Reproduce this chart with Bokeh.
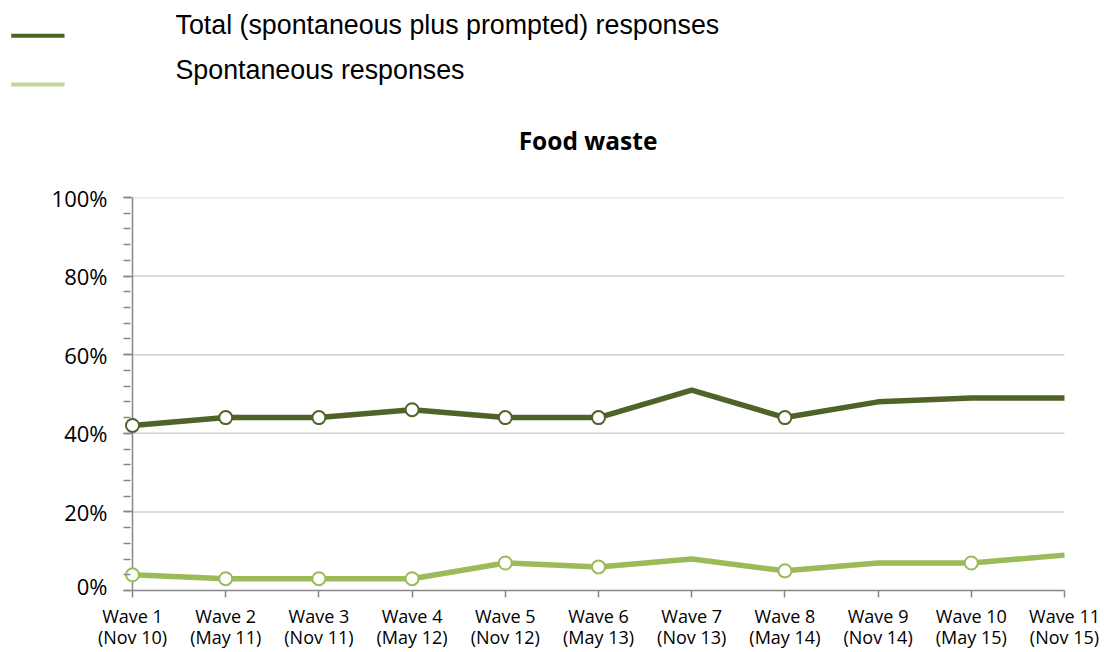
from bokeh.plotting import figure
from bokeh.models import Range1d, FixedTicker
from bokeh.core.properties import value
from bokeh.embed import file_html
from bokeh.resources import INLINE

# ---------------- data ----------------
waves = ["Wave 1\n(Nov 10)", "Wave 2\n(May 11)", "Wave 3\n(Nov 11)", "Wave 4\n(May 12)",
         "Wave 5\n(Nov 12)", "Wave 6\n(May 13)", "Wave 7\n(Nov 13)", "Wave 8\n(May 14)",
         "Wave 9\n(Nov 14)", "Wave 10\n(May 15)", "Wave 11\n(Nov 15)"]
total = [42, 44, 44, 46, 44, 44, 51, 44, 48, 49, 49]
spont = [4, 3, 3, 3, 7, 6, 8, 5, 7, 7, 9]
total_markers = [1, 1, 1, 1, 1, 1, 0, 1, 0, 0, 0]
spont_markers = [1, 1, 1, 1, 1, 1, 0, 1, 0, 1, 0]
y_ticks = [0, 20, 40, 60, 80, 100]
y_minor = list(range(0, 101, 4))
series_names = ["Total (spontaneous plus prompted) responses", "Spontaneous responses"]
chart_title = "Food waste"

DARK = "#4F6228"
LIGHT = "#9BBB59"
LIGHT_LEG = "#C3D69B"
AXIS = "#868686"
GRID = "#D0D0D0"

# ---------------- geometry (page px) ----------------
W, H = 1104, 652
TOP_H = 170                  # header (legend + title)
FOOT_Y = 600                 # footer (category labels) starts here
X0, X1 = 132, 1064           # wave 1 / wave N
Y0, Y100 = 590, 197          # 0% / 100%
n = len(waves)
step = (X1 - X0) / (n - 1)
PAD = 9


def px2x(px):
    return 1 + (px - X0) / step


def bare(fig):
    fig.title.visible = False
    fig.outline_line_color = None
    fig.xgrid.visible = False
    fig.ygrid.visible = False
    return fig


# ---------------- header figure ----------------
hdr = bare(figure(width=W, height=TOP_H, output_backend="svg", toolbar_location=None,
                  x_range=Range1d(0, W), y_range=Range1d(TOP_H, 0),
                  x_axis_location=None, y_axis_location=None,
                  min_border_left=0, min_border_right=0, min_border_top=0, min_border_bottom=0))

leg_cols = [DARK, LIGHT_LEG]
leg_line_y = [35.3, 84]
leg_text_y = [24.5, 69.5]
hdr.segment(x0=[10.7, 10.7], x1=[64, 64], y0=leg_line_y, y1=leg_line_y,
            line_color=leg_cols, line_width=4)
hdr.text(x=[175, 175], y=leg_text_y, text=series_names, text_align="left",
         text_baseline="middle", text_font=value("Liberation Sans"),
         text_font_size="26.8px", text_color="black")
hdr.text(x=[587.5], y=[140], text=[chart_title], text_align="center",
         text_baseline="middle", text_font=value("Open Sans"), text_font_style="bold",
         text_font_size="24.5px", text_color="black")

# ---------------- chart figure ----------------
p = bare(figure(width=W, height=FOOT_Y - TOP_H, output_backend="svg", toolbar_location=None,
                x_range=Range1d(px2x(X0 - PAD), px2x(X1 + PAD)), y_range=Range1d(0, 100),
                min_border_left=X0 - PAD, min_border_right=W - (X1 + PAD),
                min_border_top=Y100 - TOP_H, min_border_bottom=FOOT_Y - Y0))

xs = list(range(1, n + 1))

# gridlines and value-axis line between wave 1 and wave N
grid_vals = [t for t in y_ticks if t > 0]
p.segment(x0=[1] * len(grid_vals), x1=[n] * len(grid_vals), y0=grid_vals, y1=grid_vals,
          line_color=GRID, line_width=1.5)
p.segment(x0=[1], x1=[1], y0=[y_ticks[0]], y1=[y_ticks[-1]], line_color=AXIS, line_width=1.5)

ya = p.yaxis[0]
ya.ticker = FixedTicker(ticks=y_ticks, minor_ticks=y_minor)
ya.major_label_overrides = {t: f"{t}%" for t in y_ticks}
ya.axis_line_color = None
ya.major_tick_line_color = AXIS
ya.major_tick_line_width = 1.5
ya.minor_tick_line_color = AXIS
ya.minor_tick_line_width = 1.5
ya.major_tick_in = PAD
ya.major_tick_out = 0
ya.minor_tick_in = PAD - 2
ya.minor_tick_out = 0
ya.major_label_standoff = 16
ya.major_label_text_font = "Open Sans"
ya.major_label_text_font_size = "22px"
ya.major_label_text_color = "black"

xa = p.xaxis[0]
xa.ticker = FixedTicker(ticks=xs, minor_ticks=[])
xa.bounds = (1, n)
xa.major_label_overrides = {x: "" for x in xs}
xa.major_label_text_font_size = "1px"
xa.major_label_standoff = 0
xa.axis_line_color = AXIS
xa.axis_line_width = 1.5
xa.major_tick_line_color = AXIS
xa.major_tick_line_width = 1.5
xa.major_tick_in = 0
xa.major_tick_out = 7

p.line(xs, total, line_color=DARK, line_width=5.5)
p.line(xs, spont, line_color=LIGHT, line_width=5.5)
p.scatter([x for x, m in zip(xs, total_markers) if m], [v for v, m in zip(total, total_markers) if m],
          size=13, fill_color="white", line_color=DARK, line_width=2)
p.scatter([x for x, m in zip(xs, spont_markers) if m], [v for v, m in zip(spont, spont_markers) if m],
          size=13, fill_color="white", line_color=LIGHT, line_width=2)

# ---------------- footer figure (category labels) ----------------
FOOT_H = H - FOOT_Y
ftr = bare(figure(width=W, height=FOOT_H, output_backend="svg", toolbar_location=None,
                  x_range=Range1d(px2x(0), px2x(W)), y_range=Range1d(FOOT_H, 0),
                  x_axis_location=None, y_axis_location=None,
                  min_border_left=0, min_border_right=0, min_border_top=0, min_border_bottom=0))
ftr.text(x=xs, y=[603 - FOOT_Y] * n, text=waves, text_align="center",
         text_baseline="top", text_font=value("Open Sans"), text_font_size="18px",
         text_line_height=0.9, text_color="black")

open("out.html", "w").write(file_html([hdr, p, ftr], INLINE))
